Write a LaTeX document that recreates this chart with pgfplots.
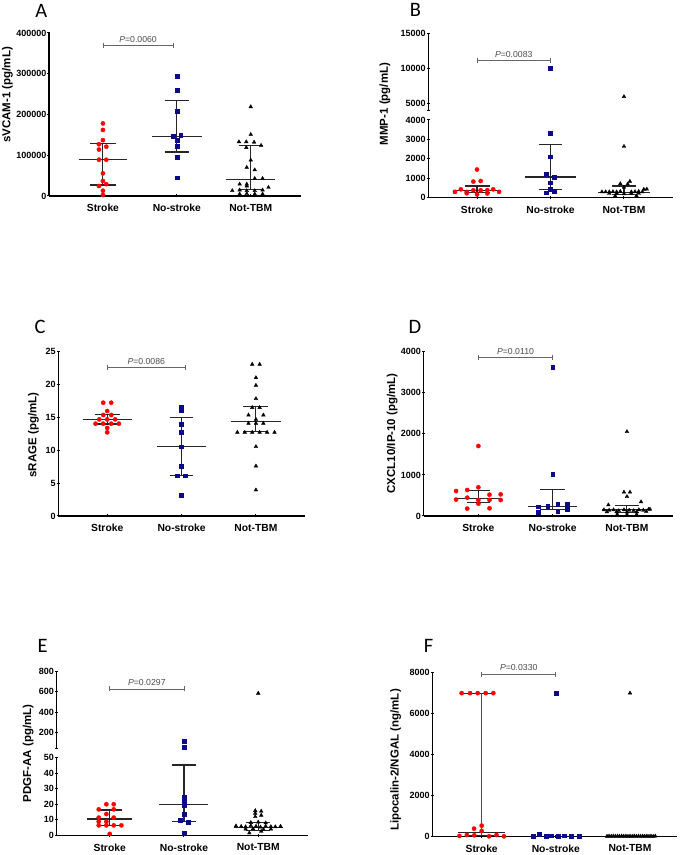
\documentclass[border=0pt]{standalone}
\usepackage{pgfplots}
\pgfplotsset{compat=1.18}
\usepackage{fontspec}
\setmainfont{Liberation Sans}
\newfontfamily\carlito{Carlito}
\definecolor{sred}{HTML}{FF0000}
\definecolor{snavy}{HTML}{0A0A8A}
\pgfplotsset{
  gpbase/.style={
    scale only axis, clip=false, enlargelimits=false,
    every tick/.style={line width=1pt, black},
    major tick length=3pt, tick align=outside,
    /pgf/number format/assume math mode=true,
    /pgf/number format/1000 sep={},
    /pgf/number format/fixed,
    scaled y ticks=false,
    yticklabel style={font=\bfseries\fontsize{9}{10}\selectfont, inner sep=1pt},
    xticklabel style={font=\bfseries\fontsize{10.3}{12}\selectfont, yshift=-3.5pt},
    ylabel style={font=\bfseries\fontsize{11.5}{13}\selectfont, anchor=center},
  },
  gpfull/.style={gpbase, axis x line=bottom, axis y line=left,
    axis line style={-, line width=1.1pt, black},
    every outer x axis line/.append style={-},
    every outer y axis line/.append style={-},
    xtick={1,2,3}, xticklabels={Stroke,No-stroke,Not-TBM}},
  gpupper/.style={gpbase, axis x line=none, axis y line=left,
    axis line style={-, line width=1.1pt, black},
    every outer y axis line/.append style={-}},
  sr/.style={only marks, mark=*, mark size=2.1pt, color=sred},
  bs/.style={only marks, mark=square*, mark size=1.9pt, color=snavy},
  kt/.style={only marks, mark=triangle*, mark size=2.1pt, color=black},
  eb/.style={line width=1.1pt, color=black!85, mark=none},
  br/.style={line width=0.7pt, color=black!60, mark=none},
}
\newcommand{\ptext}[1]{\fontsize{8.7}{10}\selectfont\color{black!70}\textit{P}=#1}
\newcommand{\panel}[1]{\carlito\fontsize{20.5}{24}\selectfont #1}
\begin{document}
\begin{tikzpicture}[x=1pt,y=1pt]
\path[use as bounding box] (0,0) rectangle (682,855);
\node[inner sep=0] at (41.3,844.3) {\panel{A}};
\node[inner sep=0] at (415.5,845.3) {\panel{B}};
\node[inner sep=0] at (40,528.3) {\panel{C}};
\node[inner sep=0] at (415,528.3) {\panel{D}};
\node[inner sep=0] at (42.7,209.2) {\panel{E}};
\node[inner sep=0] at (428.7,209.2) {\panel{F}};

% ---------------- A ----------------
\begin{axis}[gpfull, at={(49pt,659pt)}, anchor=south west, width=252pt, height=163pt,
  xmin=0.27, xmax=3.68, ymin=0, ymax=400000, ytick={0,100000,200000,300000,400000},
  ylabel={sVCAM-1 (pg/mL)}, ylabel style={at={(axis description cs:-0.165,0.62)}}]
\addplot[sr] coordinates {(1,178000) (1,162000) (1,137000) (0.946,127000) (1.045,121000) (0.946,114000) (0.946,89000) (1.045,89000) (1,55600) (1,36800) (1.045,29000) (0.946,24500) (1,13000) (1,2500)};
\addplot[bs] coordinates {(2,294000) (2,260000) (2,208000) (1.948,146000) (2.052,150000) (2,136000) (2,122000) (2,95000) (2,45000)};
\addplot[kt] coordinates {(3,219000) (3,151000) (2.84,133000) (2.94,133000) (3.045,132000) (3.14,124000) (2.94,119000) (3,88000) (2.946,70000) (3.054,64000) (3.054,43000) (3.16,43000) (2.85,29000) (2.946,29000) (2.946,24500) (3.24,21000) (2.75,13000) (2.85,14700) (2.946,13000) (3.054,13000) (3.16,14700) (2.85,4900) (2.946,5700) (3.054,4900) (3.16,4900)};
\addplot[eb] coordinates {(0.67,89000) (1.33,89000)};
\addplot[eb] coordinates {(0.83,128000) (1.17,128000)};
\addplot[eb] coordinates {(0.83,27000) (1.17,27000)};
\addplot[eb] coordinates {(1,27000) (1,128000)};
\addplot[eb] coordinates {(1.66,146000) (2.34,146000)};
\addplot[eb] coordinates {(1.835,235000) (2.165,235000)};
\addplot[eb] coordinates {(1.835,108000) (2.165,108000)};
\addplot[eb] coordinates {(2,108000) (2,235000)};
\addplot[eb] coordinates {(2.67,41000) (3.33,41000)};
\addplot[eb] coordinates {(2.84,124000) (3.16,124000)};
\addplot[eb] coordinates {(2.84,16000) (3.16,16000)};
\addplot[eb] coordinates {(3,16000) (3,124000)};
\addplot[br] coordinates {(1,369000) (1.95,369000)};
\addplot[br] coordinates {(1,363000) (1,375000)};
\addplot[br] coordinates {(1.95,363000) (1.95,375000)};
\node[anchor=south, inner sep=0, yshift=3pt] at (axis cs:1.475,369000) {\ptext{0.0060}};
\end{axis}

% ---------------- B upper ----------------
\begin{axis}[gpupper, at={(428.3pt,744.7pt)}, anchor=south west, width=244.7pt, height=77pt,
  xmin=0.337, xmax=3.667, ymin=4000, ymax=15000, ytick={5000,10000,15000},
  extra y ticks={4000}, extra y tick labels={}]
\addplot[bs] coordinates {(2,10000)};
\addplot[kt] coordinates {(3,5950)};
\addplot[br] coordinates {(1,11086) (2,11086)};
\addplot[br] coordinates {(1,10730) (1,11440)};
\addplot[br] coordinates {(2,10730) (2,11440)};
\node[anchor=south, inner sep=0, yshift=3pt] at (axis cs:1.5,11086) {\ptext{0.0083}};
\end{axis}
% ---------------- B lower ----------------
\begin{axis}[gpfull, at={(428.3pt,657.3pt)}, anchor=south west, width=244.7pt, height=77.7pt,
  xmin=0.337, xmax=3.667, ymin=0, ymax=4000, ytick={0,1000,2000,3000,4000},
  ylabel={MMP-1 (pg/mL)}, ylabel style={at={(axis description cs:-0.177,1.206)}}]
\addplot[sr] coordinates {(1,1450) (0.95,830) (1.05,860) (0.70,300) (0.78,430) (0.86,300) (0.95,380) (1.05,380) (1.14,390) (1.22,430) (1.30,300) (1,170) (0.86,230) (1.14,220)};
\addplot[bs] coordinates {(2,3330) (2,2112) (1.946,1190) (2.054,1050) (2,770) (2,430) (1.946,260) (2.054,330)};
\addplot[kt] coordinates {(3,2640) (3.08,840) (2.95,720) (3.05,700) (3.0,540) (3.27,430) (3.31,440) (2.70,300) (2.75,300) (2.80,300) (2.85,310) (2.90,300) (2.95,320) (3.10,300) (3.15,310) (3.20,320) (3.25,300) (2.80,220) (2.90,230) (3.00,200) (3.10,230) (3.20,220) (2.88,90) (3.17,90)};
\addplot[eb] coordinates {(0.67,385) (1.33,385)};
\addplot[eb] coordinates {(0.83,600) (1.17,600)};
\addplot[eb] coordinates {(0.83,280) (1.17,280)};
\addplot[eb] coordinates {(1,280) (1,600)};
\addplot[eb] coordinates {(1.65,1064) (2.35,1064)};
\addplot[eb] coordinates {(1.837,2730) (2.163,2730)};
\addplot[eb] coordinates {(1.837,430) (2.163,430)};
\addplot[eb] coordinates {(2,430) (2,2730)};
\addplot[eb] coordinates {(2.65,275) (3.35,275)};
\addplot[eb] coordinates {(2.84,600) (3.16,600)};
\addplot[eb] coordinates {(2.84,170) (3.16,170)};
\addplot[eb] coordinates {(3,170) (3,600)};
\end{axis}

% ---------------- C ----------------
\begin{axis}[gpfull, at={(58.3pt,339pt)}, anchor=south west, width=246.7pt, height=164.3pt,
  xmin=0.342, xmax=3.66, ymin=0, ymax=25, ytick={0,5,10,15,20,25},
  ylabel={sRAGE (pg/mL)}, ylabel style={at={(axis description cs:-0.101,0.493)}}]
\addplot[sr] coordinates {(0.946,17.24) (1.054,17.24) (1,15.97) (0.946,15.37) (1.054,15.37) (0.893,14.7) (1,14.7) (1.107,14.7) (0.843,14.05) (0.946,14.05) (1.054,14.05) (1.157,14.05) (1,13.4) (1,12.73)};
\addplot[bs] coordinates {(2,16.63) (2,16.1) (2,14.0) (2,12.78) (2,10.55) (2,7.6) (1.946,6.14) (2.054,6.14) (2,3.2)};
\addplot[kt] coordinates {(2.95,23.08) (3.05,23.08) (3,21.04) (3,19.88) (3,17.85) (2.95,16.5) (3.05,16.5) (2.9,15.36) (3.1,15.36) (3,14.7) (2.9,14.1) (3,14.1) (3.1,14.1) (2.75,12.73) (2.85,12.73) (2.95,12.73) (3.05,12.73) (3.15,12.73) (3.25,12.73) (3,10.55) (3,7.6) (3,3.96)};
\addplot[eb] coordinates {(0.67,14.7) (1.33,14.7)};
\addplot[eb] coordinates {(0.832,15.4) (1.168,15.4)};
\addplot[eb] coordinates {(0.832,14.0) (1.168,14.0)};
\addplot[eb] coordinates {(1,14.0) (1,15.4)};
\addplot[eb] coordinates {(1.67,10.55) (2.33,10.55)};
\addplot[eb] coordinates {(1.84,15.0) (2.16,15.0)};
\addplot[eb] coordinates {(1.84,6.2) (2.16,6.2)};
\addplot[eb] coordinates {(2,6.2) (2,15.0)};
\addplot[eb] coordinates {(2.66,14.35) (3.34,14.35)};
\addplot[eb] coordinates {(2.832,16.6) (3.168,16.6)};
\addplot[eb] coordinates {(2.832,12.8) (3.168,12.8)};
\addplot[eb] coordinates {(3,12.8) (3,16.6)};
\addplot[br] coordinates {(1,22.6) (2.05,22.6)};
\addplot[br] coordinates {(1,22.22) (1,22.98)};
\addplot[br] coordinates {(2.05,22.22) (2.05,22.98)};
\node[anchor=south, inner sep=0, yshift=3pt] at (axis cs:1.525,22.6) {\ptext{0.0086}};
\end{axis}

% ---------------- D ----------------
\begin{axis}[gpfull, at={(423.7pt,339pt)}, anchor=south west, width=249.3pt, height=164.3pt,
  xmin=0.264, xmax=3.62, ymin=0, ymax=4000, ytick={0,1000,2000,3000,4000},
  ylabel={CXCL10/IP-10 (pg/mL)}, ylabel style={at={(axis description cs:-0.126,0.503)}}]
\addplot[sr] coordinates {(1,1704) (1,698) (0.85,633) (0.70,608) (1.15,519) (1.30,527) (0.70,400) (0.85,446) (1,389) (1.15,389) (1.30,389) (0.85,180) (1.15,187) (1,300)};
\addplot[bs] coordinates {(2,3618) (2,1014) (1.8,227) (1.8,89) (1.933,243) (2.067,292) (2.067,105) (2.2,292) (2.2,162)};
\addplot[kt] coordinates {(3,2053) (2.96,580) (3.04,580) (3,470) (3.19,345) (2.75,270) (3.31,165) (2.69,150) (2.76,140) (2.82,150) (2.89,130) (2.96,150) (3.03,140) (3.09,130) (3.16,150) (3.22,140) (3.29,160) (2.73,100) (2.86,100) (3.0,95) (3.13,100) (3.26,110) (2.87,40) (3.0,30) (3.13,40)};
\addplot[eb] coordinates {(0.68,430) (1.32,430)};
\addplot[eb] coordinates {(0.847,625) (1.153,625)};
\addplot[eb] coordinates {(0.847,325) (1.153,325)};
\addplot[eb] coordinates {(1,325) (1,625)};
\addplot[eb] coordinates {(1.67,235) (2.33,235)};
\addplot[eb] coordinates {(1.83,655) (2.17,655)};
\addplot[eb] coordinates {(1.83,150) (2.17,150)};
\addplot[eb] coordinates {(2,150) (2,655)};
\addplot[eb] coordinates {(2.67,150) (3.33,150)};
\addplot[eb] coordinates {(2.84,260) (3.16,260)};
\addplot[eb] coordinates {(2.84,90) (3.16,90)};
\addplot[eb] coordinates {(3,90) (3,260)};
\addplot[br] coordinates {(1,3864) (2,3864)};
\addplot[br] coordinates {(1,3803) (1,3925)};
\addplot[br] coordinates {(2,3803) (2,3925)};
\node[anchor=south, inner sep=0, yshift=3pt] at (axis cs:1.5,3864) {\ptext{0.0110}};
\end{axis}

% ---------------- E upper ----------------
\begin{axis}[gpupper, at={(56.7pt,106.7pt)}, anchor=south west, width=251.3pt, height=77.3pt,
  xmin=0.286, xmax=3.67, ymin=50, ymax=800, ytick={200,400,600,800},
  extra y ticks={50}, extra y tick labels={}]
\addplot[bs] coordinates {(2,122.6) (2,64.5)};
\addplot[kt] coordinates {(3,584)};
\addplot[br] coordinates {(1,626) (2,626)};
\addplot[br] coordinates {(1,602) (1,650)};
\addplot[br] coordinates {(2,602) (2,650)};
\node[anchor=south, inner sep=0, yshift=3pt] at (axis cs:1.5,626) {\ptext{0.0297}};
\end{axis}
% ---------------- E lower ----------------
\begin{axis}[gpfull, at={(56.7pt,19.7pt)}, anchor=south west, width=251.3pt, height=77.6pt,
  xmin=0.286, xmax=3.67, ymin=0, ymax=50, ytick={0,10,20,30,40,50},
  ylabel={PDGF-AA (pg/mL)}, ylabel style={at={(axis description cs:-0.113,1.057)}}]
\addplot[sr] coordinates {(0.955,20.0) (1.054,20.0) (0.852,16.7) (1.054,16.7) (0.955,13.7) (0.852,11.4) (1.054,11.4) (0.852,8.8) (0.955,8.8) (0.852,6.4) (0.955,6.4) (1.054,6.4) (1.157,6.4) (1,0.9)};
\addplot[bs] coordinates {(2,24.9) (2,22.7) (2,19.5) (2,13.7) (1.946,9.9) (2.054,8.2) (2,1.3)};
\addplot[kt] coordinates {(2.96,15.9) (3.04,15.5) (2.96,14.2) (3.04,12.9) (2.96,12.0) (2.90,8.2) (3.0,8.5) (3.1,8.0) (2.70,6.0) (2.77,5.7) (2.83,5.5) (2.90,6.2) (2.97,5.8) (3.03,5.3) (3.10,5.9) (3.17,5.6) (3.23,5.5) (3.30,5.8) (2.83,4.0) (2.93,4.2) (3.07,3.8) (3.17,4.0) (2.88,1.5) (3.04,2.5)};
\addplot[eb] coordinates {(0.7,10.5) (1.3,10.5)};
\addplot[eb] coordinates {(0.84,16.3) (1.16,16.3)};
\addplot[eb] coordinates {(0.84,6.4) (1.16,6.4)};
\addplot[eb] coordinates {(1,6.4) (1,16.3)};
\addplot[eb] coordinates {(1.67,19.7) (2.33,19.7)};
\addplot[eb] coordinates {(1.843,45.3) (2.157,45.3)};
\addplot[eb] coordinates {(1.843,8.8) (2.157,8.8)};
\addplot[eb] coordinates {(2,8.8) (2,45.3)};
\addplot[eb] coordinates {(2.67,4.9) (3.33,4.9)};
\addplot[eb] coordinates {(2.84,8.4) (3.16,8.4)};
\addplot[eb] coordinates {(2.84,3.0) (3.16,3.0)};
\addplot[eb] coordinates {(3,3.0) (3,8.4)};
\end{axis}

% ---------------- F ----------------
\begin{axis}[gpfull, at={(432.3pt,18.7pt)}, anchor=south west, width=244.4pt, height=163.6pt,
  xmin=0.334, xmax=3.63, ymin=0, ymax=8000, ytick={0,2000,4000,6000,8000},
  ylabel={Lipocalin-2/NGAL (ng/mL)}, ylabel style={at={(axis description cs:-0.15,0.466)}}]
\addplot[sr] coordinates {(0.73,7000) (0.843,7000) (0.946,7000) (1.054,7000) (1.157,7000) (0.897,375) (1,521) (1,260) (0.70,16) (0.80,65) (0.90,49) (1.10,0) (1.20,65) (1.30,0)};
\addplot[bs] coordinates {(2,7000) (1.69,0) (1.775,115) (1.865,10) (1.942,30) (2.03,10) (2.11,30) (2.21,10) (2.31,0)};
\addplot[kt] coordinates {(3,7000) (2.690,0) (2.718,10) (2.747,0) (2.775,10) (2.803,0) (2.832,10) (2.860,0) (2.888,10) (2.916,0) (2.945,10) (2.973,0) (3.001,10) (3.030,0) (3.058,10) (3.086,0) (3.115,10) (3.143,0) (3.171,10) (3.199,0) (3.228,10) (3.256,0) (3.284,10) (3.313,0) (3.341,10)};
\addplot[eb] coordinates {(0.68,180) (1.32,180)};
\addplot[eb] coordinates {(0.73,7000) (1.17,7000)};
\addplot[eb] coordinates {(0.83,50) (1.17,50)};
\addplot[eb, color=black!70] coordinates {(1,50) (1,7000)};
\addplot[br] coordinates {(1,7936) (2,7936)};
\addplot[br] coordinates {(1,7814) (1,8058)};
\addplot[br] coordinates {(2,7814) (2,8058)};
\node[anchor=south, inner sep=0, yshift=3pt] at (axis cs:1.5,7936) {\ptext{0.0330}};
\end{axis}
\end{tikzpicture}
\end{document}
